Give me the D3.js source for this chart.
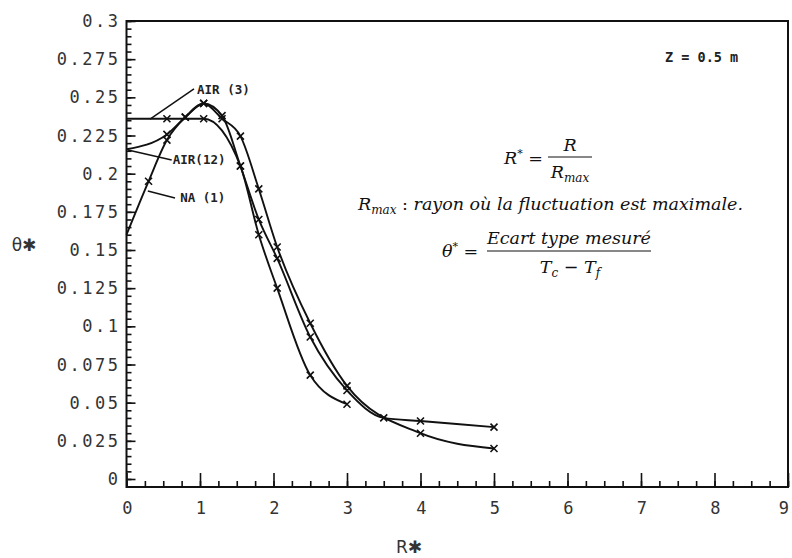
<!DOCTYPE html>
<html>
<head>
<meta charset="utf-8">
<script src="https://cdn.jsdelivr.net/npm/d3@7"></script>
<style>
  body { margin: 0; background: #fff; }
  .tick-label { font-family: "DejaVu Sans Mono", monospace; font-size: 17px; fill: #333; letter-spacing: 2.5px; }
  .series-label { font-family: "DejaVu Sans Mono", monospace; font-size: 12.5px; font-weight: bold; fill: #222; }
  .formula { font-family: "DejaVu Serif", serif; font-style: italic; font-size: 17.5px; fill: #111; }
</style>
</head>
<body>
<svg></svg>
<script>
let width = 792;
let height = 558;

// values (R*, theta*)
let na1R     = [0, 0.3, 0.55, 0.8, 1.05, 1.3, 1.55, 1.8, 2.05, 2.5, 3, 4, 5];
let na1T     = [0.16, 0.195, 0.222, 0.237, 0.246, 0.236, 0.2246, 0.19, 0.152, 0.102, 0.061, 0.030, 0.020];
let air12R   = [0, 0.55, 0.8, 1.05, 1.3, 1.55, 1.8, 2.05, 2.5, 3, 3.5, 4, 5];
let air12T   = [0.216, 0.2257, 0.237, 0.246, 0.238, 0.205, 0.170, 0.1445, 0.093, 0.058, 0.040, 0.038, 0.034];
let air3R    = [0, 0.55, 1.05, 1.55, 1.8, 2.05, 2.5, 3];
let air3T    = [0.236, 0.236, 0.236, 0.205, 0.160, 0.125, 0.068, 0.049];

let xTicks = [0, 1, 2, 3, 4, 5, 6, 7, 8, 9];
let yTicks = [0.3, 0.275, 0.25, 0.225, 0.2, 0.175, 0.15, 0.125, 0.1, 0.075, 0.05, 0.025, 0];
let yTickLabels = ['0.3', '0.275', '0.25', '0.225', '0.2', '0.175', '0.15', '0.125', '0.1', '0.075', '0.05', '0.025', '0'];

let svg = d3.select('svg')
            .attr('width', width)
            .attr('height', height);

let x = d3.scaleLinear().domain([0, 9]).range([126.5, 788]);
let y = d3.scaleLinear().domain([0, 0.3]).range([479, 21]);
let frameBottom = y(0) + 8;

// frame
svg.append('rect')
   .attr('x', x(0)).attr('y', y(0.3))
   .attr('width', x(9) - x(0)).attr('height', frameBottom - y(0.3))
   .attr('fill', 'none').attr('stroke', '#111').attr('stroke-width', 2);

// y ticks (inward), every 0.005, longer on labelled values
let yMinor = d3.range(0, 60.5, 1).map(i => i * 0.005);
svg.append('g')
   .attr('transform', `translate(${x(0)},0)`)
   .call(d3.axisRight(y).tickValues(yMinor).tickSize(5).tickFormat(''))
   .call(g => g.select('.domain').remove())
   .call(g => g.selectAll('line').attr('stroke', '#111').attr('stroke-width', 1.6));
svg.append('g')
   .attr('transform', `translate(${x(0)},0)`)
   .call(d3.axisRight(y).tickValues(yTicks).tickSize(9).tickFormat(''))
   .call(g => g.select('.domain').remove())
   .call(g => g.selectAll('line').attr('stroke', '#111').attr('stroke-width', 1.6));

// x ticks (upward from frame bottom), every 0.25
let xMinor = d3.range(0, 36.5, 1).map(i => i * 0.25);
svg.append('g')
   .attr('transform', `translate(0,${frameBottom})`)
   .call(d3.axisTop(x).tickValues(xMinor).tickSize(6).tickFormat(''))
   .call(g => g.select('.domain').remove())
   .call(g => g.selectAll('line').attr('stroke', '#111').attr('stroke-width', 1.6));
svg.append('g')
   .attr('transform', `translate(0,${frameBottom})`)
   .call(d3.axisTop(x).tickValues(xTicks).tickSize(14).tickFormat(''))
   .call(g => g.select('.domain').remove())
   .call(g => g.selectAll('line').attr('stroke', '#111').attr('stroke-width', 1.6));

// tick labels
svg.append('g').selectAll('text')
   .data(yTicks)
   .enter().append('text')
   .attr('class', 'tick-label')
   .attr('x', x(0) - 6)
   .attr('y', d => y(d) + 6)
   .attr('text-anchor', 'end')
   .text((d, i) => yTickLabels[i]);

svg.append('g').selectAll('text')
   .data(xTicks)
   .enter().append('text')
   .attr('class', 'tick-label')
   .attr('x', d => d === 9 ? x(d) - 3 : x(d) + 2)
   .attr('y', frameBottom + 27)
   .attr('text-anchor', 'middle')
   .text(d => d);

// axis titles
svg.append('text')
   .attr('x', 409).attr('y', 553)
   .attr('text-anchor', 'middle')
   .style('font-family', 'DejaVu Sans').style('font-size', '17px').style('fill', '#333')
   .text('R✱');
svg.append('text')
   .attr('x', 24).attr('y', 251)
   .attr('text-anchor', 'middle')
   .style('font-family', 'DejaVu Sans').style('font-size', '17px').style('fill', '#333')
   .text('θ✱');

// curves
let line = d3.line()
             .x(d => x(d[0]))
             .y(d => y(d[1]))
             .curve(d3.curveMonotoneX);

let series = [
  { name: 'NA (1)', pts: d3.zip(na1R, na1T) },
  { name: 'AIR(12)', pts: d3.zip(air12R, air12T) },
  { name: 'AIR (3)', pts: d3.zip(air3R, air3T) }
];

svg.append('g').selectAll('path')
   .data(series)
   .enter().append('path')
   .attr('d', d => line(d.pts))
   .attr('fill', 'none')
   .attr('stroke', '#111')
   .attr('stroke-width', 1.9);

// x markers (skip the start point on the axis)
let marks = series.flatMap(s => s.pts.filter(p => p[0] > 0));
let m = 3.5;
svg.append('g').selectAll('path')
   .data(marks)
   .enter().append('path')
   .attr('d', d => {
     let cx = x(d[0]), cy = y(d[1]);
     return `M${cx - m},${cy - m}L${cx + m},${cy + m}M${cx - m},${cy + m}L${cx + m},${cy - m}`;
   })
   .attr('stroke', '#111')
   .attr('stroke-width', 1.6);

// series labels with leader lines (data units)
let labelText = ['AIR (3)', 'AIR(12)', 'NA (1)'];
let labelAt   = [[0.96, 0.2522], [0.63, 0.2063], [0.73, 0.1814]];
let leaderFrom = [[0.918, 0.2555], [0.02, 0.2155], [0.29, 0.1886]];
let leaderTo   = [[0.32, 0.2358], [0.615, 0.209], [0.66, 0.184]];

svg.append('g').selectAll('line')
   .data(labelText)
   .enter().append('line')
   .attr('x1', (d, i) => x(leaderFrom[i][0])).attr('y1', (d, i) => y(leaderFrom[i][1]))
   .attr('x2', (d, i) => x(leaderTo[i][0])).attr('y2', (d, i) => y(leaderTo[i][1]))
   .attr('stroke', '#111').attr('stroke-width', 1.5);

svg.append('g').selectAll('text')
   .data(labelText)
   .enter().append('text')
   .attr('class', 'series-label')
   .attr('x', (d, i) => x(labelAt[i][0]))
   .attr('y', (d, i) => y(labelAt[i][1]))
   .text(d => d);

svg.append('text')
   .attr('class', 'series-label')
   .attr('x', 665).attr('y', 62)
   .style('font-size', '13.5px')
   .text('Z = 0.5 m');

// formulas
let f = svg.append('g').attr('class', 'formula');

// R* = R / Rmax
let t1 = f.append('text').attr('x', 504).attr('y', 164);
t1.append('tspan').text('R');
t1.append('tspan').attr('dy', -7).style('font-size', '11px').text('*');
t1.append('tspan').attr('dy', 7).style('font-style', 'normal').text(' = ');
f.append('text').attr('x', 570).attr('y', 151).attr('text-anchor', 'middle').text('R');
f.append('line').attr('x1', 548).attr('x2', 592).attr('y1', 157).attr('y2', 157)
 .attr('stroke', '#111').attr('stroke-width', 1);
let t2 = f.append('text').attr('x', 570).attr('y', 178).attr('text-anchor', 'middle');
t2.append('tspan').text('R');
t2.append('tspan').attr('dy', 4).style('font-size', '12px').text('max');

// Rmax : rayon ...
let t3 = f.append('text').attr('x', 358).attr('y', 210);
t3.append('tspan').text('R');
t3.append('tspan').attr('dy', 4).style('font-size', '12px').text('max');
t3.append('tspan').attr('dy', -4).style('font-style', 'normal').text(' : ');
t3.append('tspan').text('rayon où la fluctuation est maximale.');

// theta* = Ecart type mesuré / (Tc - Tf)
let t4 = f.append('text').attr('x', 442).attr('y', 257);
t4.append('tspan').text('θ');
t4.append('tspan').attr('dy', -7).style('font-size', '11px').text('*');
t4.append('tspan').attr('dy', 7).style('font-style', 'normal').text(' = ');
f.append('text').attr('x', 569).attr('y', 244).attr('text-anchor', 'middle').text('Ecart type mesuré');
f.append('line').attr('x1', 487).attr('x2', 651).attr('y1', 251).attr('y2', 251)
 .attr('stroke', '#111').attr('stroke-width', 1);
let t5 = f.append('text').attr('x', 570).attr('y', 273).attr('text-anchor', 'middle');
t5.append('tspan').text('T');
t5.append('tspan').attr('dy', 4).style('font-size', '12px').text('c');
t5.append('tspan').attr('dy', -4).style('font-style', 'normal').text(' − ');
t5.append('tspan').text('T');
t5.append('tspan').attr('dy', 4).style('font-size', '12px').text('f');
</script>
</body>
</html>
